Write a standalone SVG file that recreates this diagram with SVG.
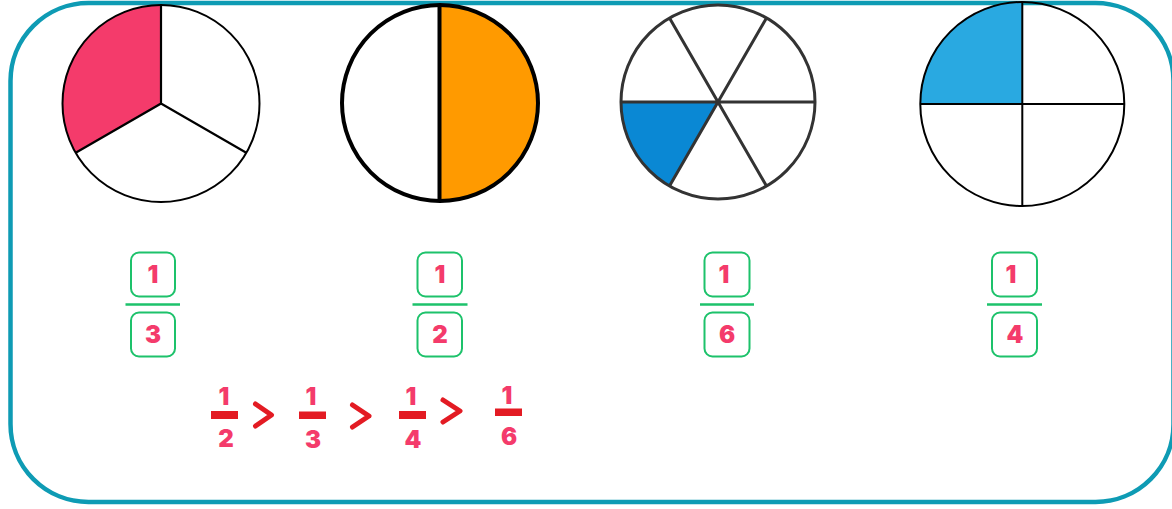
<svg xmlns="http://www.w3.org/2000/svg" width="1172" height="509" viewBox="0 0 1172 509">
<style>
.box{fill:none;stroke:#1DC26B;stroke-width:2}
.bar{stroke:#1DC26B;stroke-width:2.5}
.num{font-family:Inter,"Noto Sans",sans-serif;font-weight:900;font-size:24px;fill:#F43B6B;text-anchor:middle}
.rbar{fill:#E31B23}
.gt{fill:none;stroke:#E31B23;stroke-width:5;stroke-linecap:round;stroke-linejoin:round}
</style>
<rect width="1172" height="509" fill="#fff"/>
<rect id="frame" x="10.5" y="3" width="1163" height="499" rx="78" ry="78" fill="none" stroke="#0E9BB4" stroke-width="4.5"/>

<g id="pie-third">
<path d="M161,103.5 L161,5 A98.5,98.5 0 0 0 75.7,152.75 Z" fill="#F43B6B"/>
<circle cx="161" cy="103.5" r="98.5" fill="none" stroke="#000" stroke-width="2"/>
<path d="M161,5 L161,103.5 L75.7,152.75 M161,103.5 L246.3,152.75" fill="none" stroke="#000" stroke-width="2.2"/>
</g>

<g id="pie-half">
<path d="M440,5 A98,98 0 0 1 440,201 Z" fill="#FF9A00"/>
<circle cx="440" cy="103" r="98" fill="none" stroke="#000" stroke-width="4"/>
<line x1="439.5" y1="5" x2="439.5" y2="201" stroke="#000" stroke-width="4"/>
</g>

<g id="pie-sixth">
<path d="M718,102 L621,102 A97,97 0 0 0 669.5,186 Z" fill="#0A88D4"/>
<circle cx="718" cy="102" r="97" fill="none" stroke="#333" stroke-width="3"/>
<path d="M621,102 L815,102 M669.5,18 L766.5,186 M766.5,18 L669.5,186" fill="none" stroke="#333" stroke-width="3"/>
</g>

<g id="pie-quarter">
<path d="M1022.3,104 L1022.3,2 A102.3,102 0 0 0 920,104 Z" fill="#29A9E1"/>
<circle cx="1022.3" cy="104" r="102" fill="none" stroke="#000" stroke-width="2"/>
<path d="M920,104 L1124.5,104 M1022.3,2 L1022.3,206" fill="none" stroke="#000" stroke-width="2"/>
</g>

<g id="frac-1-3">
<rect class="box" x="131" y="252.5" width="44" height="44" rx="8"/>
<line class="bar" x1="125.5" y1="304.5" x2="180" y2="304.5"/>
<rect class="box" x="131" y="312.5" width="44" height="44" rx="8"/>
<text class="num" x="153" y="282.5">1</text>
<text class="num" x="153" y="342.5">3</text>
</g>

<g id="frac-1-2">
<rect class="box" x="417.5" y="252.5" width="44.5" height="44" rx="8"/>
<line class="bar" x1="412.5" y1="304.5" x2="467.5" y2="304.5"/>
<rect class="box" x="417.5" y="312.5" width="44.5" height="44" rx="8"/>
<text class="num" x="440" y="282.5">1</text>
<text class="num" x="440" y="342.5">2</text>
</g>

<g id="frac-1-6">
<rect class="box" x="704.5" y="252.5" width="45" height="44" rx="8"/>
<line class="bar" x1="700" y1="304.5" x2="754" y2="304.5"/>
<rect class="box" x="704.5" y="312.5" width="45" height="44" rx="8"/>
<text class="num" x="724" y="282.5">1</text>
<text class="num" x="727" y="342.5">6</text>
</g>

<g id="frac-1-4">
<rect class="box" x="992" y="252.5" width="45" height="44" rx="8"/>
<line class="bar" x1="987" y1="304.5" x2="1042" y2="304.5"/>
<rect class="box" x="992" y="312.5" width="45" height="44" rx="8"/>
<text class="num" x="1011" y="282.5">1</text>
<text class="num" x="1015" y="342.5">4</text>
</g>

<g id="order">
<text class="num" x="224" y="404.5">1</text>
<rect class="rbar" x="211" y="411" width="27" height="8"/>
<text class="num" x="226" y="446.5">2</text>
<polyline class="gt" points="255.5,404 271.5,415 255.5,426"/>

<text class="num" x="311" y="404.5">1</text>
<rect class="rbar" x="299" y="411.5" width="27" height="7.5"/>
<text class="num" x="313" y="447.5">3</text>
<polyline class="gt" points="352.5,405 369,416 352.5,427"/>

<text class="num" x="411" y="404.5">1</text>
<rect class="rbar" x="399" y="411" width="27" height="8"/>
<text class="num" x="413" y="447.5">4</text>
<polyline class="gt" points="443,400 460,411 443,422"/>

<text class="num" x="507" y="403.5">1</text>
<rect class="rbar" x="495" y="408.5" width="27" height="7.5"/>
<text class="num" x="509" y="444.5">6</text>
</g>
</svg>
